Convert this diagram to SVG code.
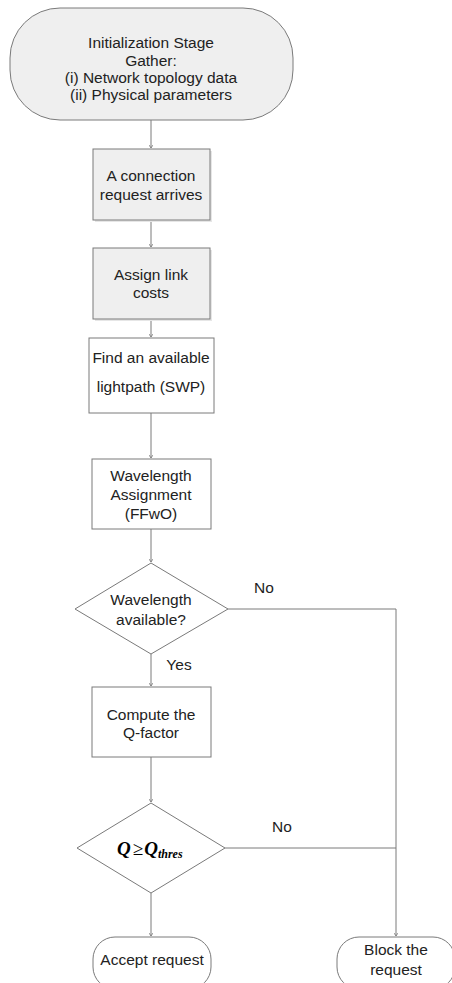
<svg xmlns="http://www.w3.org/2000/svg" width="452" height="983" viewBox="0 0 452 983">
<style>
.s{stroke:#7a7a7a;stroke-width:1;}
.g{fill:#efefef;}
.w{fill:#ffffff;}
.t{font-family:"Liberation Sans",Arial,sans-serif;font-size:15.5px;fill:#222;text-anchor:middle;}
.c{fill:none;stroke:#7a7a7a;stroke-width:1;}
.sh{fill:#e6e6e6;}
</style>
<defs>
<marker id="a" markerWidth="4" markerHeight="4" refX="3" refY="2" orient="auto" markerUnits="userSpaceOnUse">
<path d="M0,0 L3,2 L0,4" fill="none" stroke="#7a7a7a" stroke-width="0.8"/>
</marker>
</defs>
<rect width="452" height="983" fill="#ffffff"/>
<g id="connectors">
<line class="c" x1="151" y1="120" x2="151" y2="148" marker-end="url(#a)"/>
<line class="c" x1="151" y1="220" x2="151" y2="247" marker-end="url(#a)"/>
<line class="c" x1="151" y1="319" x2="151" y2="337" marker-end="url(#a)"/>
<line class="c" x1="151" y1="413" x2="151" y2="458" marker-end="url(#a)"/>
<line class="c" x1="151" y1="529" x2="151" y2="562" marker-end="url(#a)"/>
<line class="c" x1="151" y1="654" x2="151" y2="686" marker-end="url(#a)"/>
<line class="c" x1="151" y1="757" x2="151" y2="802" marker-end="url(#a)"/>
<line class="c" x1="151" y1="893" x2="151" y2="936" marker-end="url(#a)"/>
<polyline class="c" points="228,609 396,609 396,936" marker-end="url(#a)"/>
<line class="c" x1="225" y1="848" x2="396" y2="848"/>
<text class="t" x="264" y="593">No</text>
<text class="t" x="179" y="670">Yes</text>
<text class="t" x="282" y="832">No</text>
</g>
<g id="init">
<rect class="s g" x="10" y="8" width="283" height="112" rx="50" ry="50"/>
<text class="t" x="151" y="48">Initialization Stage</text>
<text class="t" x="151" y="65.5">Gather:</text>
<text class="t" x="151" y="83">(i) Network topology data</text>
<text class="t" x="151" y="100">(ii) Physical parameters</text>
</g>
<g id="arrive">
<rect class="sh" x="95" y="151" width="117" height="71"/>
<rect class="s g" x="93" y="149" width="117" height="71"/>
<text class="t" x="151" y="181">A connection</text>
<text class="t" x="151" y="200">request arrives</text>
</g>
<g id="costs">
<rect class="sh" x="95" y="250" width="117" height="71"/>
<rect class="s g" x="93" y="248" width="117" height="71"/>
<text class="t" x="151" y="280">Assign link</text>
<text class="t" x="151" y="298">costs</text>
</g>
<g id="find">
<rect class="s w" x="89" y="338" width="125" height="75"/>
<text class="t" x="151" y="363">Find an available</text>
<text class="t" x="151" y="392">lightpath (SWP)</text>
</g>
<g id="assign">
<rect class="s w" x="92" y="459" width="119" height="70"/>
<text class="t" x="151" y="481">Wavelength</text>
<text class="t" x="151" y="500">Assignment</text>
<text class="t" x="151" y="519">(FFwO)</text>
</g>
<g id="avail">
<polygon class="s w" points="151,563 228,609 151,654 75,609"/>
<text class="t" x="151" y="605">Wavelength</text>
<text class="t" x="151" y="625">available?</text>
</g>
<g id="qfactor">
<rect class="s w" x="92" y="687" width="119" height="70"/>
<text class="t" x="151" y="720">Compute the</text>
<text class="t" x="151" y="738">Q-factor</text>
</g>
<g id="qcheck">
<polygon class="s w" points="151,803 225,848 151,893 77,848"/>
<text x="117" y="855" font-family="'Liberation Serif','Times New Roman',serif" font-size="19" font-weight="bold" font-style="italic" fill="#000">Q<tspan font-style="normal" font-weight="normal" dx="2">≥</tspan><tspan dx="1">Q</tspan><tspan font-size="12" dy="3">thres</tspan></text>
</g>
<g id="accept">
<rect class="s w" x="93" y="937" width="118" height="52" rx="22" ry="22"/>
<text class="t" x="152" y="965">Accept request</text>
</g>
<g id="block">
<rect class="s w" x="337" y="937" width="118" height="52" rx="22" ry="22"/>
<text class="t" x="396" y="955">Block the</text>
<text class="t" x="396" y="975">request</text>
</g>
</svg>
